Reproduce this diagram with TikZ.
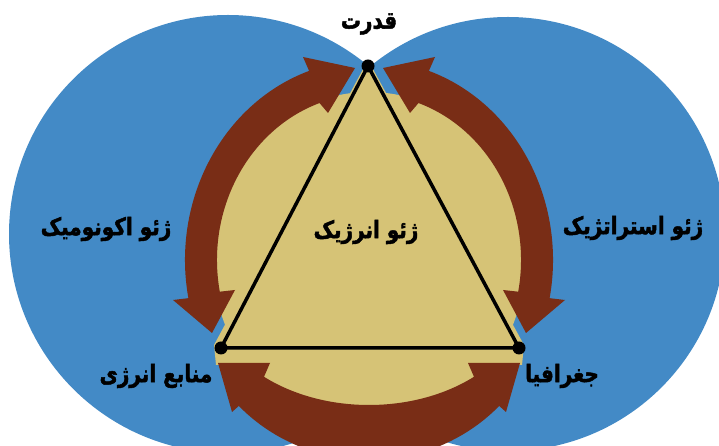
\documentclass[tikz,border=0pt]{standalone}
\usepackage{fontspec}
\usepackage{graphicx}
\newfontfamily\arabicfont[Script=Arabic, BoldFeatures={FakeBold=2}]{DejaVu Sans}
\TeXXeTstate=1
\usetikzlibrary{calc}
\definecolor{blobblue}{RGB}{67,138,198}
\definecolor{ringbrown}{RGB}{121,45,22}
\definecolor{coretan}{RGB}{214,195,118}
\newcommand{\tallfa}[1]{\scalebox{1}[1.2]{\beginR #1\endR}}
\begin{document}
\begin{tikzpicture}[x=1pt,y=1pt,
  lbl/.style={font=\arabicfont\bfseries\fontsize{20}{24}\selectfont, inner sep=0pt, text=black},
  vdot/.style={circle, fill=black, inner sep=0pt, minimum size=13pt},
  arrowband/.style={fill=ringbrown}]
\useasboundingbox (0,0) rectangle (719,446);
\clip (0,0) rectangle (719,446);
\fill[white] (0,0) rectangle (719,446);
% blue blobs
\fill[blobblue] (228,212) circle[radius=219];
\fill[blobblue] (508,212) circle[radius=217];
% tan core
\fill[coretan] (369,186) ellipse[x radius=156, y radius=168];
\fill[coretan] (368,386) -- (524,101) -- (522,81) -- (216,81) -- (214,101) -- cycle;
% left arrow
\fill[arrowband] ($(369,186)+(109:184 and 200)$) arc[start angle=109, end angle=191, x radius=184, y radius=200]
  -- (173,146) -- (212,113) -- (235,156)
  -- ($(369,186)+(191:152 and 166)$) arc[start angle=191, end angle=109, x radius=152, y radius=166]
  -- (328,333) -- (355,378) -- (303,389) -- cycle;
% right arrow
\fill[arrowband] ($(369,186)+(71:184 and 200)$) arc[start angle=71, end angle=-11, x radius=184, y radius=200]
  -- (565,146) -- (526,113) -- (503,156)
  -- ($(369,186)+(-11:152 and 166)$) arc[start angle=-11, end angle=71, x radius=152, y radius=166]
  -- (410,333) -- (383,378) -- (435,389) -- cycle;
% bottom arrow
\fill[arrowband] ($(369,156)+(223:178 and 170)$) arc[start angle=223, end angle=317, x radius=178, y radius=170]
  -- (506,34) -- (520,83) -- (468,83)
  -- ($(369,156)+(311:160 and 115)$) arc[start angle=311, end angle=229, x radius=160, y radius=115]
  -- (270,83) -- (218,83) -- (232,34) -- cycle;
% triangle
\coordinate (pT) at (368,380);
\coordinate (pL) at (221,98);
\coordinate (pR) at (519,98);
\draw[line width=3.5pt, line join=round] (pT) -- (pL) -- (pR) -- cycle;
\node[vdot] (T) at (pT) {};
\node[vdot] (L) at (pL) {};
\node[vdot] (R) at (pR) {};
% labels
\node[lbl] (power) at (369,422) {\tallfa{قدرت}};
\node[lbl] (geoenergy) at (366,214) {\tallfa{ژئو انرژیک}};
\node[lbl] (geoecon) at (106,217) {\tallfa{ژئو اکونومیک}};
\node[lbl] (geostrat) at (633,218) {\tallfa{ژئو استراتژیک}};
\node[lbl] (resources) at (156,70) {\tallfa{منابع انرژی}};
\node[lbl] (geography) at (562,70) {\tallfa{جغرافیا}};
\end{tikzpicture}
\end{document}
